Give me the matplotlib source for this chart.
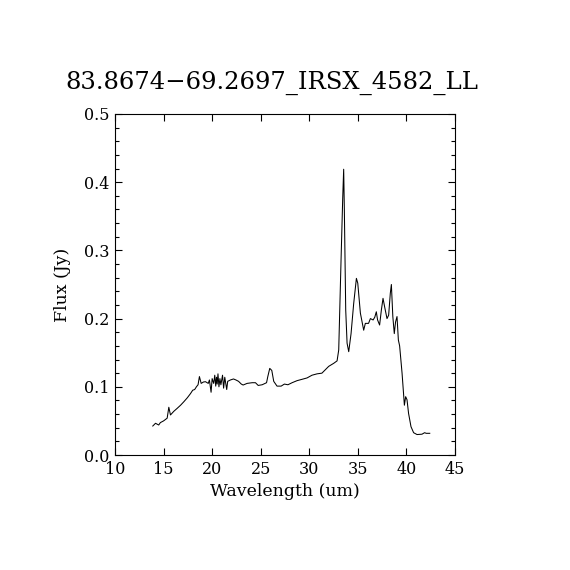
import matplotlib
matplotlib.use('Agg')
import matplotlib.pyplot as plt
from matplotlib.ticker import MultipleLocator

# Спектр
wavelength = [
    13.89, 14.17, 14.50, 14.67, 15.00, 15.37, 15.54, 15.71, 16.05, 16.40,
    16.75, 17.08, 17.45, 17.77, 18.00, 18.20, 18.38, 18.55, 18.69, 18.87,
    19.10, 19.31, 19.60, 19.72, 19.89, 20.00, 20.16, 20.27, 20.37, 20.45,
    20.52, 20.60, 20.70, 20.80, 20.90, 21.07, 21.18, 21.30, 21.50, 21.60,
    21.88, 22.20, 22.45, 22.72, 23.00, 23.19, 23.60, 24.12, 24.46, 24.74,
    25.15, 25.45, 25.60, 25.73, 25.93, 26.14, 26.34, 26.68, 27.10, 27.44,
    27.80, 28.23, 28.74, 29.26, 29.77, 30.28, 30.80, 31.30, 31.65, 32.00,
    32.51, 32.86, 33.03, 33.27, 33.44, 33.54, 33.61, 33.75, 33.89, 34.06,
    34.30, 34.57, 34.85, 34.99, 35.26, 35.60, 35.77, 36.10, 36.29, 36.57,
    36.74, 36.90, 37.03, 37.24, 37.42, 37.59, 37.76, 38.00, 38.17, 38.34,
    38.45, 38.60, 38.75, 38.88, 39.03, 39.17, 39.30, 39.55, 39.79, 39.92,
    40.06, 40.22, 40.47, 40.74, 41.09, 41.60, 41.87, 42.04, 42.40,
]
flux = [
    0.0425, 0.0465, 0.0440, 0.0475, 0.0500, 0.0540, 0.0700, 0.0587, 0.0640, 0.0684,
    0.0730, 0.0780, 0.0840, 0.0900, 0.0950, 0.0960, 0.1000, 0.1030, 0.1150, 0.1050,
    0.1070, 0.1075, 0.1050, 0.1100, 0.0920, 0.1120, 0.1050, 0.1170, 0.1010, 0.1140,
    0.1040, 0.1190, 0.1000, 0.1120, 0.1030, 0.1170, 0.0980, 0.1140, 0.0960, 0.1080,
    0.1100, 0.1115, 0.1100, 0.1080, 0.1040, 0.1026, 0.1050, 0.1060, 0.1060, 0.1020,
    0.1030, 0.1050, 0.1060, 0.1150, 0.1270, 0.1240, 0.1080, 0.1010, 0.1010, 0.1040,
    0.1030, 0.1060, 0.1090, 0.1110, 0.1130, 0.1170, 0.1190, 0.1200, 0.1250, 0.1300,
    0.1344, 0.1380, 0.1540, 0.2860, 0.3760, 0.4190, 0.3590, 0.2126, 0.1640, 0.1515,
    0.1780, 0.2220, 0.2590, 0.2520, 0.2080, 0.1830, 0.1930, 0.1930, 0.2000, 0.1980,
    0.2020, 0.2100, 0.1980, 0.1906, 0.2126, 0.2297, 0.2170, 0.2000, 0.2050, 0.2370,
    0.2500, 0.2030, 0.1780, 0.1950, 0.2030, 0.1686, 0.1600, 0.1200, 0.0730, 0.0855,
    0.0810, 0.0610, 0.0415, 0.0327, 0.0300, 0.0305, 0.0327, 0.0318, 0.0318,
]

title = '83.8674\u221269.2697_IRSX_4582_LL'

plt.rcParams['font.family'] = ['DejaVu Serif']

fig = plt.figure(figsize=(5.7, 5.7), dpi=100)
ax = fig.add_axes([115 / 570, 115 / 570, 340 / 570, 341 / 570])

ax.plot(wavelength, flux, color='black', linewidth=0.75)

ax.set_xlim(10, 45)
ax.set_ylim(0, 0.5)
ax.xaxis.set_major_locator(MultipleLocator(5))
ax.yaxis.set_major_locator(MultipleLocator(0.1))
ax.yaxis.set_minor_locator(MultipleLocator(0.02))
ax.yaxis.set_major_formatter(plt.FormatStrFormatter('%.1f'))
ax.tick_params(which='both', direction='in', top=True, right=True,
               labelsize=11.5, color='black', pad=4)
ax.tick_params(which='major', length=5, width=0.8)
ax.tick_params(which='minor', length=3, width=0.8)
for s in ax.spines.values():
    s.set_linewidth(0.8)

ax.set_xlabel('Wavelength (um)', fontsize=12.5, labelpad=4)
ax.set_ylabel('Flux (Jy)', fontsize=12.5, labelpad=9)
fig.text(272 / 570, 1 - 83 / 570, title, ha='center', va='center', fontsize=17.5)

fig.savefig('out.png', dpi=100, facecolor='white')
